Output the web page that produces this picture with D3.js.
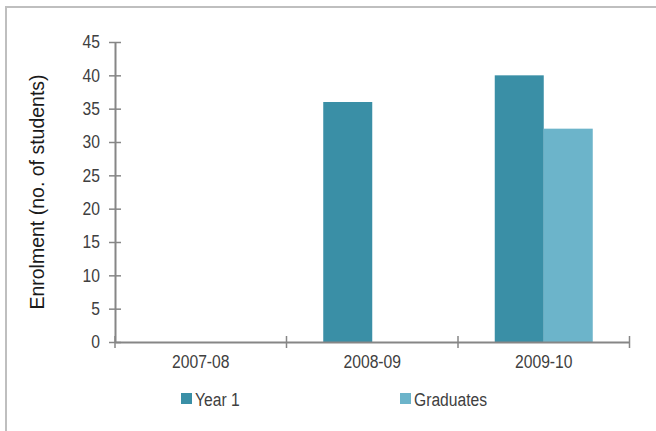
<!DOCTYPE html>
<html>
<head>
<meta charset="utf-8">
<script src="https://cdn.jsdelivr.net/npm/d3@7"></script>
<style>
  html, body { margin: 0; padding: 0; background: #fff; }
  svg { display: block; }
</style>
</head>
<body>
<div id="chart"></div>
<script>
// Enrolment by academic year
const categories = ["2007-08", "2008-09", "2009-10"];
const seriesNames = ["Year 1", "Graduates"];
const year1 = [0, 36, 40];
const graduates = [0, 0, 32];
const yTicks = [0, 5, 10, 15, 20, 25, 30, 35, 40, 45];
const colors = ["#3a8fa6", "#6cb4ca"];

const W = 656, H = 431;
const margin = { left: 115, right: 26.5, top: 42, bottom: 89 };
const plotW = W - margin.left - margin.right;
const plotH = H - margin.top - margin.bottom;

// narrow look: regular sans squeezed horizontally
const NARROW = 0.87;
const tickFont = "'Liberation Sans', Arial, sans-serif";
const tickSize = "18px";

const svg = d3.select("#chart").append("svg")
  .attr("width", W).attr("height", H);

// outer frame (top and left edges)
svg.append("path")
  .attr("d", `M6,${H} V7 H${W}`)
  .attr("fill", "none")
  .attr("stroke", "#bfbfbf")
  .attr("stroke-width", 2);

const g = svg.append("g").attr("transform", `translate(${margin.left},${margin.top})`);

const x = d3.scaleBand().domain(categories).range([0, plotW]);
const x1 = d3.scaleBand().domain(seriesNames).range([0, x.bandwidth()]).paddingOuter(0.75).paddingInner(0);
const y = d3.scaleLinear().domain([0, 45]).range([plotH, 0]);

const rows = categories.map((c, i) => ({ cat: c, values: [year1[i], graduates[i]] }));

// bars
g.selectAll("g.grp").data(rows).join("g")
  .attr("class", "grp")
  .attr("transform", d => `translate(${x(d.cat)},0)`)
  .selectAll("rect")
  .data(d => d.values.map((v, k) => ({ name: seriesNames[k], v, k })))
  .join("rect")
  .attr("x", d => x1(d.name))
  .attr("width", x1.bandwidth())
  .attr("y", d => y(d.v))
  .attr("height", d => plotH - y(d.v))
  .attr("fill", d => colors[d.k]);

const axisColor = "#868686";
const textColor = "#404040";

// y axis
const yAxis = g.append("g")
  .call(d3.axisLeft(y).tickValues(yTicks).tickSize(6).tickPadding(9).tickSizeOuter(0));
yAxis.select(".domain").attr("stroke", axisColor).attr("stroke-width", 2);
yAxis.selectAll(".tick line").attr("stroke", axisColor).attr("stroke-width", 1.5).attr("x2", 6).attr("x1", -6);
yAxis.selectAll(".tick text")
  .attr("x", -15 / NARROW)
  .attr("transform", `scale(${NARROW},1)`)
  .style("font-family", tickFont).style("font-size", tickSize).attr("fill", textColor);

// x axis
const xAxis = g.append("g").attr("transform", `translate(0,${plotH})`)
  .call(d3.axisBottom(x).tickSize(0).tickPadding(13).tickSizeOuter(0));
xAxis.select(".domain").attr("stroke", axisColor).attr("stroke-width", 2);
xAxis.selectAll(".tick text")
  .attr("transform", `scale(${NARROW},1)`)
  .style("font-family", tickFont).style("font-size", tickSize).attr("fill", textColor);

// category boundary ticks
const bounds = [0, ...categories.map(c => x(c) + x.bandwidth())];
xAxis.selectAll("line.bound").data(bounds).join("line")
  .attr("class", "bound")
  .attr("x1", d => d).attr("x2", d => d)
  .attr("y1", -6).attr("y2", 6)
  .attr("stroke", axisColor).attr("stroke-width", 1.5);

// y axis title
svg.append("text")
  .attr("transform", `translate(44,${margin.top + plotH / 2}) rotate(-90)`)
  .attr("text-anchor", "middle")
  .style("font-family", "'Liberation Sans', Arial, sans-serif")
  .style("font-size", "19.5px")
  .attr("fill", "#1a1a1a")
  .text("Enrolment (no. of students)");

// legend
const legendX = [181, 400];
const legend = svg.selectAll("g.legend").data(seriesNames).join("g")
  .attr("class", "legend")
  .attr("transform", (d, i) => `translate(${legendX[i]},393)`);
legend.append("rect").attr("width", 11).attr("height", 11).attr("fill", (d, i) => colors[i]);
legend.append("text")
  .attr("transform", `translate(14,12.5) scale(${NARROW},1)`)
  .style("font-family", tickFont).style("font-size", tickSize)
  .attr("fill", textColor)
  .text(d => d);
</script>
</body>
</html>
